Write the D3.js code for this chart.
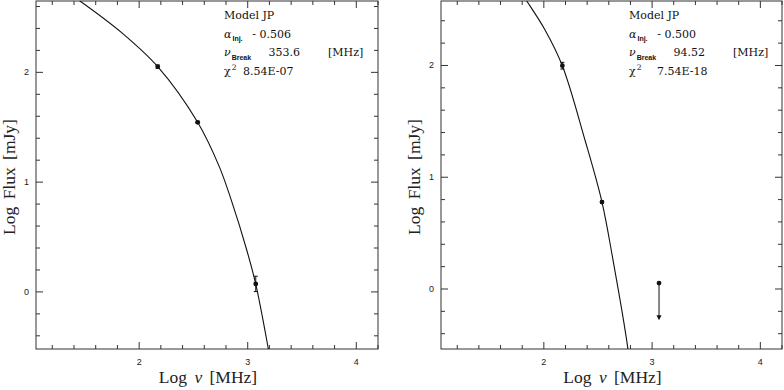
<!doctype html>
<html lang="en">
<head>
<meta charset="utf-8">
<title>JP model fits</title>
<script src="https://d3js.org/d3.v7.min.js"></script>
<style>
  body { margin: 0; background: #fff; }
  svg { display: block; }
  .frame { fill: none; stroke: #333; stroke-width: 1; }
  .tick line { stroke: #333; stroke-width: 1; }
  .ticklabel { font-family: "Liberation Sans", Arial, sans-serif; font-size: 9px; fill: #222; }
  .title { font-family: "Liberation Serif", "Times New Roman", serif; font-size: 17.5px; fill: #222; word-spacing: 3px; }
  .note { font-family: "DejaVu Serif", "Liberation Serif", serif; font-size: 11px; fill: #111; }
  .sub { font-family: "Liberation Sans", Arial, sans-serif; font-size: 7px; font-weight: bold; fill: #111; }
  .curve { fill: none; stroke: #111; stroke-width: 1.1; }
</style>
</head>
<body>
<svg id="chart" width="784" height="390"></svg>
<script>
// tick labels
var xTicks = [2, 3, 4];
var yTicks = [0, 1, 2];

// left panel: measured points (log nu, log flux, error)
var leftFreq = [2.171, 2.539, 3.074];
var leftFlux = [2.052, 1.545, 0.073];
var leftErr  = [0.015, 0.01, 0.07];
// left panel: model curve
var leftCurveX = [1.20, 1.455, 1.842, 2.171, 2.539, 2.738, 2.848, 2.991, 3.074, 3.190, 3.25];
var leftCurveY = [2.82, 2.650, 2.359, 2.052, 1.545, 1.141, 0.838, 0.382, 0.070, -0.519, -0.86];

// right panel
var rightFreq = [2.171, 2.537];
var rightFlux = [1.998, 0.778];
var rightErr  = [0.03, 0.01];
var rightLimitFreq = [3.064];
var rightLimitFlux = [0.053];
var rightLimitTip  = [-0.28];
var rightCurveX = [1.70, 1.842, 2.011, 2.171, 2.380, 2.537, 2.639, 2.765, 2.80];
var rightCurveY = [2.78, 2.577, 2.318, 1.998, 1.333, 0.778, 0.259, -0.457, -0.72];

// fit parameters
var modelAlpha = ["- 0.506", "- 0.500"];
var modelBreak = ["353.6", "94.52"];
var modelChi2  = ["8.54E-07", "7.54E-18"];

var svg = d3.select("#chart");

function drawPanel(p, i) {
  var x = d3.scaleLinear().domain(p.xDomain).range([p.left, p.right]);
  var y = d3.scaleLinear().domain(p.yDomain).range([p.bottom, p.top]);
  var g = svg.append("g");

  g.append("clipPath").attr("id", "clip" + i)
    .append("rect").attr("x", p.left).attr("y", p.top)
    .attr("width", p.right - p.left).attr("height", p.bottom - p.top);

  // ticks every 0.2, longer on integers
  var xt = d3.range(Math.ceil(p.xDomain[0] * 5), Math.floor(p.xDomain[1] * 5) + 1).map(function(k) { return k / 5; });
  var yt = d3.range(Math.ceil(p.yDomain[0] * 5), Math.floor(p.yDomain[1] * 5) + 1).map(function(k) { return k / 5; });
  var isMajor = function(v) { return Math.abs(v - Math.round(v)) < 1e-6; };

  var tk = g.append("g").attr("class", "tick");
  xt.forEach(function(v) {
    var L = isMajor(v) ? 7 : 4;
    tk.append("line").attr("x1", x(v)).attr("x2", x(v)).attr("y1", p.bottom).attr("y2", p.bottom - L);
    tk.append("line").attr("x1", x(v)).attr("x2", x(v)).attr("y1", p.top).attr("y2", p.top + L);
  });
  yt.forEach(function(v) {
    var L = isMajor(v) ? 7 : 4;
    tk.append("line").attr("y1", y(v)).attr("y2", y(v)).attr("x1", p.left).attr("x2", p.left + L);
    tk.append("line").attr("y1", y(v)).attr("y2", y(v)).attr("x1", p.right).attr("x2", p.right - L);
  });

  g.append("rect").attr("class", "frame")
    .attr("x", p.left).attr("y", p.top)
    .attr("width", p.right - p.left).attr("height", p.bottom - p.top);

  g.selectAll(".xl").data(xTicks).enter().append("text").attr("class", "ticklabel")
    .attr("x", function(d) { return x(d); }).attr("y", p.bottom + 16)
    .attr("text-anchor", "middle").text(function(d) { return d; });
  g.selectAll(".yl").data(yTicks).enter().append("text").attr("class", "ticklabel")
    .attr("x", p.left - 7).attr("y", function(d) { return y(d) + 3; })
    .attr("text-anchor", "end").text(function(d) { return d; });

  // axis titles
  var xt0 = g.append("text").attr("class", "title")
    .attr("x", (p.left + p.right) / 2 + 1).attr("y", p.bottom + 34).attr("text-anchor", "middle");
  xt0.append("tspan").text("Log ");
  xt0.append("tspan").attr("font-style", "italic").text("ν");
  xt0.append("tspan").text(" [MHz]");
  g.append("text").attr("class", "title")
    .attr("transform", "translate(" + (p.left - 21) + "," + 177 + ") rotate(-90)")
    .attr("text-anchor", "middle").text("Log Flux [mJy]");

  // model curve
  var line = d3.line().x(function(d) { return x(d[0]); }).y(function(d) { return y(d[1]); })
    .curve(d3.curveCatmullRom.alpha(0.5));
  g.append("path").attr("class", "curve").attr("clip-path", "url(#clip" + i + ")")
    .attr("d", line(d3.zip(p.curveX, p.curveY)));

  // data points with error bars
  var pts = d3.zip(p.freq, p.flux, p.err);
  pts.forEach(function(d) {
    g.append("line").attr("x1", x(d[0])).attr("x2", x(d[0]))
      .attr("y1", y(d[1] + d[2])).attr("y2", y(d[1] - d[2])).attr("stroke", "#111");
    [d[1] + d[2], d[1] - d[2]].forEach(function(e) {
      g.append("line").attr("x1", x(d[0]) - 2).attr("x2", x(d[0]) + 2)
        .attr("y1", y(e)).attr("y2", y(e)).attr("stroke", "#111");
    });
    g.append("circle").attr("cx", x(d[0])).attr("cy", y(d[1])).attr("r", 2.4).attr("fill", "#111");
  });

  // upper limits
  d3.zip(p.limFreq, p.limFlux, p.limTip).forEach(function(d) {
    var cx = x(d[0]), y0 = y(d[1]), y1 = y(d[2]);
    g.append("line").attr("x1", cx).attr("x2", cx).attr("y1", y0).attr("y2", y1 - 2).attr("stroke", "#111");
    g.append("path").attr("d", "M" + (cx - 2.5) + "," + (y1 - 5) + "L" + (cx + 2.5) + "," + (y1 - 5) + "L" + cx + "," + y1 + "Z")
      .attr("fill", "#111");
    g.append("circle").attr("cx", cx).attr("cy", y0).attr("r", 2.4).attr("fill", "#111");
  });

  // fit annotation
  var ax = p.left + 188;
  g.append("text").attr("class", "note").attr("x", ax).attr("y", 19).text("Model JP");
  var t1 = g.append("text").attr("class", "note").attr("x", ax).attr("y", 38);
  t1.append("tspan").attr("font-style", "italic").text("α");
  t1.append("tspan").attr("class", "sub").attr("dy", 3).attr("dx", 1).text("Inj.");
  g.append("text").attr("class", "note").attr("x", p.left + 255).attr("y", 38)
    .attr("text-anchor", "end").text(modelAlpha[i]);
  var t2 = g.append("text").attr("class", "note").attr("x", ax).attr("y", 56);
  t2.append("tspan").attr("font-style", "italic").text("ν");
  t2.append("tspan").attr("class", "sub").attr("dy", 4).attr("dx", 1).text("Break");
  g.append("text").attr("class", "note").attr("x", p.left + 264).attr("y", 56)
    .attr("text-anchor", "end").text(modelBreak[i]);
  g.append("text").attr("class", "note").attr("x", p.left + 292).attr("y", 56).text("[MHz]");
  var t3 = g.append("text").attr("class", "note").attr("x", ax).attr("y", 75);
  t3.append("tspan").text("χ");
  t3.append("tspan").attr("font-size", "7.5px").attr("dy", -5).attr("dx", 1).text("2");
  g.append("text").attr("class", "note").attr("font-size", "9.5px")
    .attr("x", p.left + p.chiX).attr("y", 75).text(modelChi2[i]);
}

drawPanel({ left: 36, right: 378, top: 1, bottom: 349, xDomain: [1.05, 4.2], yDomain: [-0.52, 2.65],
  freq: leftFreq, flux: leftFlux, err: leftErr, limFreq: [], limFlux: [], limTip: [],
  curveX: leftCurveX, curveY: leftCurveY, chiX: 207 }, 0);
drawPanel({ left: 441, right: 782, top: 1, bottom: 349, xDomain: [1.05, 4.2], yDomain: [-0.537, 2.577],
  freq: rightFreq, flux: rightFlux, err: rightErr, limFreq: rightLimitFreq, limFlux: rightLimitFlux, limTip: rightLimitTip,
  curveX: rightCurveX, curveY: rightCurveY, chiX: 216 }, 1);
</script>
</body>
</html>
